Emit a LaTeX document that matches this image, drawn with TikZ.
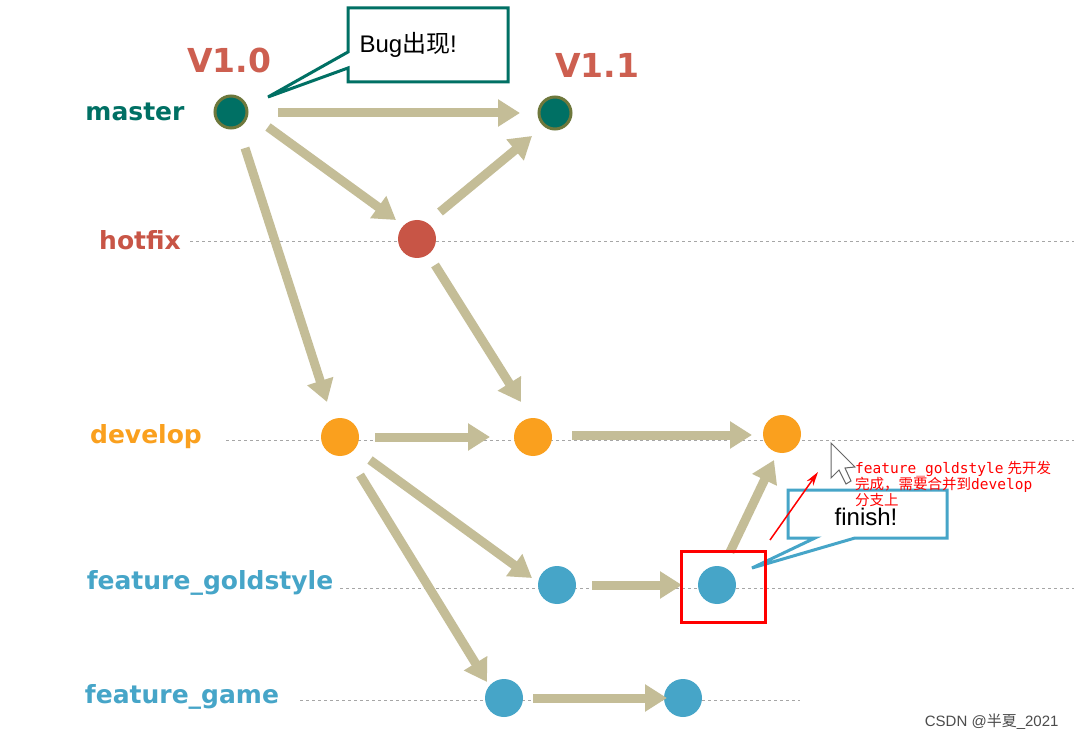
\documentclass[tikz,border=0pt]{standalone}
\usepackage{fontspec}
\setmainfont{Liberation Sans}
\newfontfamily\cjk{Noto Sans CJK SC}
\newfontfamily\dvs{DejaVu Sans}
\newfontfamily\monof{DejaVu Sans Mono}
\usetikzlibrary{arrows.meta}
\definecolor{khaki}{RGB}{196,189,151}
\definecolor{teal1}{RGB}{0,112,100}
\definecolor{olive1}{RGB}{110,120,60}
\definecolor{hred}{RGB}{200,85,70}
\definecolor{orng}{RGB}{250,160,30}
\definecolor{blu}{RGB}{70,165,200}
\definecolor{lab}{RGB}{205,95,80}
\begin{document}
\begin{tikzpicture}[x=1pt,y=-1pt,
  flow/.style={draw=khaki,line width=9pt,-{Triangle[length=22pt,width=26pt]}},
  dot/.style={circle,minimum size=#1,inner sep=0pt},
  brlabel/.style={font=\dvs\bfseries\fontsize{25}{27}\selectfont},
  guide/.style={draw=gray!70,dashed,line width=0.8pt}]
\useasboundingbox (0,0) rectangle (1074,743);
\fill[white] (0,0) rectangle (1074,743);
% guide lines
\draw[guide] (190,241) -- (1074,241);
\draw[guide] (226,440) -- (1074,440);
\draw[guide] (340,588) -- (1074,588);
\draw[guide] (300,700) -- (800,700);
% labels
\node[brlabel,text=teal1] (lm) at (135,112) {master};
\node[brlabel,text=hred] (lh) at (140,240) {hotfix};
\node[brlabel,text=orng] (ld) at (146,437) {develop};
\node[brlabel,text=blu] (lg) at (210,583) {feature\_goldstyle};
\node[brlabel,text=blu] (lf) at (182,697) {feature\_game};
% nodes
\node[dot=32pt,fill=teal1,draw=olive1,line width=3pt] (m1) at (231,112) {};
\node[dot=32pt,fill=teal1,draw=olive1,line width=3pt] (m2) at (555,113) {};
\node[dot=38pt,fill=hred] (h) at (417,239) {};
\node[dot=38pt,fill=orng] (d1) at (340,437) {};
\node[dot=38pt,fill=orng] (d2) at (533,437) {};
\node[dot=38pt,fill=orng] (d3) at (782,434) {};
\node[dot=38pt,fill=blu] (g1) at (557,585) {};
\node[dot=38pt,fill=blu] (g2) at (717,585) {};
\node[dot=38pt,fill=blu] (f1) at (504,698) {};
\node[dot=38pt,fill=blu] (f2) at (683,698) {};
% flows
\coordinate (a1) at (278,113); \coordinate (b1) at (520,113);
\draw[flow] (a1) -- (b1);
\coordinate (a2) at (268,127); \coordinate (b2) at (396,220);
\draw[flow] (a2) -- (b2);
\coordinate (a3) at (245,148); \coordinate (b3) at (327,402);
\draw[flow] (a3) -- (b3);
\coordinate (a4) at (440,212); \coordinate (b4) at (532,136);
\draw[flow] (a4) -- (b4);
\coordinate (a5) at (435,265); \coordinate (b5) at (521,402);
\draw[flow] (a5) -- (b5);
\coordinate (a6) at (375,437); \coordinate (b6) at (490,437);
\draw[flow] (a6) -- (b6);
\coordinate (a7) at (572,435); \coordinate (b7) at (752,435);
\draw[flow] (a7) -- (b7);
\coordinate (a8) at (370,460); \coordinate (b8) at (532,578);
\draw[flow] (a8) -- (b8);
\coordinate (a9) at (360,475); \coordinate (b9) at (487,682);
\draw[flow] (a9) -- (b9);
\coordinate (a10) at (592,585); \coordinate (b10) at (682,585);
\draw[flow] (a10) -- (b10);
\coordinate (a11) at (730,552); \coordinate (b11) at (774,460);
\draw[flow] (a11) -- (b11);
\coordinate (a12) at (533,698); \coordinate (b12) at (667,698);
\draw[flow] (a12) -- (b12);
% versions
\node[font=\dvs\bfseries\fontsize{33}{35}\selectfont,text=lab] (v0) at (229,60) {V1.0};
\node[font=\dvs\bfseries\fontsize{33}{35}\selectfont,text=lab] (v1) at (597,65) {V1.1};
% Bug callout
\draw[teal1,line width=3pt,fill=white,line join=miter]
  (348,8) -- (508,8) -- (508,82) -- (348,82) -- (348,68) -- (268,97) -- (348,52) -- cycle;
\node[font=\fontsize{24}{26}\selectfont,anchor=west] (bug) at (356,45) {Bug{\cjk 出现}!};
% finish callout
\draw[blu,line width=3pt,fill=white,line join=miter]
  (788,490) -- (947,490) -- (947,538) -- (855,538) -- (752,568) -- (815,538) -- (788,538) -- cycle;
\node[font=\fontsize{24}{26}\selectfont] (fin) at (866,517) {finish!};
% red box
\draw[red,line width=3pt] (681,551) rectangle (765,622);
\coordinate (ra) at (770,540); \coordinate (rb) at (818,472);
\draw[red,line width=1.5pt,-{Stealth[length=14pt,width=8pt]}] (ra) -- (rb);
% cursor
\draw[gray!80!black,fill=white,line width=1pt] (831,443) -- (831,478) -- (839,470) -- (846,484) -- (851,481) -- (845,468) -- (855,467) -- cycle;
% annotation
\node[anchor=north west,text=red,font=\fontsize{14.5}{16}\selectfont,align=left,inner sep=0pt] (note) at (855,461)
 {{\monof feature\_goldstyle} {\cjk 先开发}\\{\cjk 完成，需要合并到}{\monof develop}\\{\cjk 分支上}};
\node[anchor=east,text=gray!60!black,font=\fontsize{15}{16}\selectfont] (wm) at (1062,722) {CSDN @{\cjk 半夏}\_2021};
\end{tikzpicture}
\end{document}
